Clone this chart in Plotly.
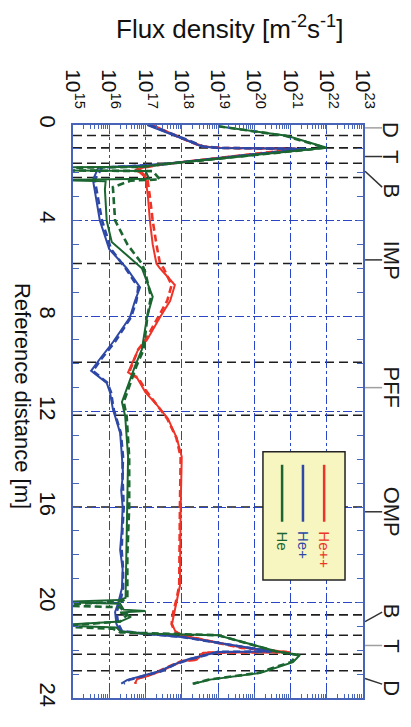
import plotly.graph_objects as go

# ---------------- data ----------------
flux_tick_vals = [1e15, 1e16, 1e17, 1e18, 1e19, 1e20, 1e21, 1e22, 1e23]
flux_tick_text = ["10<sup>15</sup>", "10<sup>16</sup>", "10<sup>17</sup>", "10<sup>18</sup>",
                  "10<sup>19</sup>", "10<sup>20</sup>", "10<sup>21</sup>", "10<sup>22</sup>",
                  "10<sup>23</sup>"]
dist_tick_vals = [0, 4, 8, 12, 16, 20, 24]

# He++ (red)
hepp_d = [0.0, 0.34, 0.62, 0.9, 0.96, 1.0, 1.65, 1.78, 1.88, 2.0, 2.2, 3.0, 4.0, 5.0, 5.8, 6.0,
          6.7, 7.36, 8.05, 9.0, 9.4, 10.36, 10.6, 11.2, 11.7, 12.3, 13.1, 13.9, 16.0, 19.3, 19.9,
          20.5, 20.9, 21.2, 21.37, 21.9, 22.08, 22.1, 22.4, 22.45, 22.68, 22.89, 23.09, 23.2, 23.4]
hepp_solid = [1.58e17, 5.01e17, 1.26e18, 3.98e18, 1.26e19, 1.78e21, 2.51e17, 8.91e16, 5.13e16,
              7.08e16, 1.0e17, 1.17e17, 1.32e17, 1.58e17, 2.0e17, 2.51e17, 6.46e17, 4.79e17,
              2.51e17, 1.1e17, 6.31e16, 3.31e16, 5.89e16, 1.0e17, 2.0e17, 4.17e17, 7.24e17,
              1.0e18, 9.33e17, 8.91e17, 7.24e17, 5.89e17, 5.37e17, 6.61e17, 1.0e18, 5.01e19,
              1.0e21, 3.98e18, 2.57e18, 1.07e18, 4.79e17, 2.51e17, 1.1e17, 5.89e16, 5.13e16]
hepp_dash = [1.41e17, 4.47e17, 1.26e18, 3.55e18, 1.12e19, 1.58e21, 2.82e17, 8.91e16, 5.62e16,
             7.94e16, 1.12e17, 1.32e17, 1.58e17, 2.0e17, 2.51e17, 3.16e17, 5.25e17, 3.98e17,
             2.24e17, 1.0e17, 6.31e16, 3.55e16, 6.31e16, 1.12e17, 2.0e17, 3.98e17, 7.08e17,
             9.33e17, 8.91e17, 8.51e17, 7.08e17, 5.62e17, 5.25e17, 6.31e17, 1.0e18, 4.47e19,
             7.94e20, 3.98e18, 2.51e18, 1.0e18, 4.47e17, 2.24e17, 1.0e17, 5.62e16, 5.25e16]

# He+ (blue)
hep_d = [0.0, 0.34, 0.62, 0.9, 0.96, 1.0, 1.65, 1.72, 1.78, 2.3, 2.7, 4.0, 5.2, 6.0, 6.8, 7.36,
         8.05, 9.1, 9.8, 10.3, 10.8, 11.2, 11.9, 12.9, 13.9, 14.6, 15.3, 16.0, 17.0, 17.8, 18.6,
         19.4, 20.0, 20.4, 20.9, 21.2, 21.3, 21.44, 22.05, 22.07, 22.37, 22.6, 22.87, 23.08,
         23.24, 23.4]
hep_solid = [1.12e17, 4.47e17, 1.26e18, 3.55e18, 1.0e19, 2.82e21, 2.51e17, 3.98e16, 5.01e15,
             3.55e15, 3.98e15, 5.5e15, 1.0e16, 3.02e16, 7.08e16, 5.13e16, 3.72e16, 1.26e16,
             5.5e15, 3.16e15, 8.51e15, 1.05e16, 1.26e16, 2.0e16, 2.24e16, 2.4e16, 2.14e16,
             2.34e16, 2.2e16, 2.0e16, 2.34e16, 2.24e16, 1.78e16, 1.45e16, 1.58e16, 2.0e16,
             7.94e16, 9.77e17, 3.16e20, 1.0e19, 1.58e18, 5.89e17, 2.51e17, 7.94e16, 3.16e16,
             2.14e16]
hep_dash = [1.26e17, 5.01e17, 1.41e18, 3.98e18, 1.12e19, 2.51e21, 2.82e17, 4.47e16, 6.31e15,
            3.98e15, 4.47e15, 6.31e15, 1.12e16, 2.82e16, 6.31e16, 5.62e16, 3.98e16, 1.41e16,
            6.03e15, 3.55e15, 8.91e15, 1.12e16, 1.32e16, 2.09e16, 2.4e16, 2.3e16, 2.4e16,
            2.51e16, 2.3e16, 2.2e16, 2.4e16, 2.4e16, 2.0e16, 1.58e16, 1.78e16, 2.24e16,
            8.91e16, 1.0e18, 2.82e20, 1.0e19, 1.78e18, 6.31e17, 2.82e17, 8.91e16, 3.55e16,
            2.51e16]

# He (green)
he_d = [0.05, 0.45, 0.95, 1.02, 1.65, 1.75, 1.78, 1.9, 1.93, 2.25, 2.3, 2.36, 2.7, 4.0, 4.9,
        6.0, 7.2, 8.05, 9.4, 10.1, 11.6, 12.2, 13.9, 16.0, 18.0, 19.8, 19.9, 19.98, 20.05, 20.3,
        20.36, 20.42, 20.6, 20.8, 20.95, 21.05, 21.2, 21.3, 21.37, 22.05, 22.2, 22.5, 22.95,
        23.23, 23.4]
he_solid = [1.0e19, 7.94e20, 1.0e22, 3.98e21, 2.51e17, 7.94e16, 3.16e14, 3.16e14, 1.0e17,
            1.26e17, 3.16e14, 7.94e15, 7.59e15, 8.51e15, 1.17e16, 7.94e16, 1.58e17, 1.1e17,
            7.94e16, 5.13e16, 2.24e16, 2.75e16, 3.31e16, 3.16e16, 3.02e16, 2.82e16, 2.0e16,
            3.16e14, 2.0e16, 2.51e16, 1.0e17, 2.0e16, 3.98e16, 2.0e16, 3.16e14, 1.58e16,
            2.0e16, 7.94e16, 1.0e19, 4.27e20, 1.82e21, 1.17e21, 1.45e20, 6.03e18, 2.14e18]
he_dash_d = [0.05, 0.45, 0.95, 1.02, 1.65, 1.75, 1.8, 1.9, 1.93, 2.28, 2.33, 2.6, 4.0, 5.0,
             5.8, 6.2, 7.2, 8.05, 9.4, 10.1, 11.6, 12.2, 13.9, 16.0, 18.0, 19.8, 19.95, 20.12,
             20.2, 20.5, 20.8, 21.0, 21.1, 21.25, 21.37, 22.05, 22.2, 22.5, 22.95, 23.23, 23.4]
he_dash = [1.0e19, 7.08e20, 8.91e21, 3.55e21, 2.82e17, 8.91e16, 3.16e14, 3.16e14, 1.58e17,
           2.51e17, 3.98e16, 1.26e16, 1.45e16, 3.16e16, 7.94e16, 1.0e17, 1.41e17, 1.12e17,
           8.91e16, 5.62e16, 2.51e16, 3.02e16, 3.55e16, 3.55e16, 3.16e16, 3.16e16, 2.24e16,
           3.16e14, 2.0e16, 3.16e16, 2.0e16, 3.16e14, 1.26e16, 2.0e16, 1.0e19, 3.98e20,
           1.58e21, 1.0e21, 1.26e20, 5.62e18, 2.0e18]

# reference (black dashed) positions along the distance axis [m]
reference_lines = [0.44, 0.96, 1.6, 2.2, 5.8, 9.94, 12.16, 16.0, 20.52, 21.37, 22.17, 22.86]

# region labels on the right side
region_labels = ["D", "T", "B", "IMP", "PFF", "OMP", "B", "T", "D"]
region_label_at = [0.22, 1.3, 2.75, 5.65, 11.0, 16.2, 20.35, 21.8, 23.6]
leader_from = [0.12, 1.32, 1.94, 5.65, 11.0, 16.2, 20.8, 21.8, 23.18]
leader_to = [0.12, 1.32, 2.6, 5.65, 11.0, 16.2, 20.4, 21.8, 23.42]
leader_gray = [True, False, False, False, True, False, False, True, False]

legend_names = ["He++", "He+", "He"]

# ---------------- styling ----------------
RED = "#ee3428"
BLUE = "#2e48a6"
GREEN = "#1b6630"
FRAME = "#4864b8"
GRID = "#2a46c4"
FONT = "Liberation Sans, Arial, sans-serif"

fig = go.Figure()

series = [
    (hepp_d, hepp_solid, hepp_d, hepp_dash, RED),
    (hep_d, hep_solid, hep_d, hep_dash, BLUE),
    (he_d, he_solid, he_dash_d, he_dash, GREEN),
]
for d_s, f_s, d_d, f_d, col in series:
    fig.add_trace(go.Scatter(x=f_d, y=d_d, mode="lines",
                             line=dict(color=col, width=2.6, dash="7px,4px"),
                             showlegend=False, hoverinfo="skip"))
    fig.add_trace(go.Scatter(x=f_s, y=d_s, mode="lines",
                             line=dict(color=col, width=2.0),
                             showlegend=False, hoverinfo="skip"))

shapes = []
for d in reference_lines:
    shapes.append(dict(type="line", xref="paper", yref="y", x0=0, x1=1, y0=d, y1=d,
                       line=dict(color="#1e1e1e", width=1.6, dash="9px,5px"),
                       layer="between"))

# leader lines to region labels
for a, b, g in zip(leader_from, leader_to, leader_gray):
    shapes.append(dict(type="line", xref="paper", yref="y", x0=1.007, x1=1.066, y0=a, y1=b,
                       line=dict(color="#a0a0a0" if g else "#333333", width=1.5),
                       layer="above"))

# legend box
box_x0, box_x1, box_y0, box_y1 = 0.655, 0.938, 0.206, 0.4296
shapes.append(dict(type="rect", xref="paper", yref="paper", x0=box_x0, x1=box_x1,
                   y0=box_y0, y1=box_y1, fillcolor="#f7f5c0",
                   line=dict(color="#222222", width=1.5), layer="above"))
leg_x = [0.866, 0.793, 0.721]
leg_cols = [RED, BLUE, GREEN]
for lx, c in zip(leg_x, leg_cols):
    shapes.append(dict(type="line", xref="paper", yref="paper", x0=lx, x1=lx,
                       y0=0.3076, y1=0.407, line=dict(color=c, width=2.5), layer="above"))

annotations = []
for lx, c, name in zip(leg_x, leg_cols, legend_names):
    annotations.append(dict(xref="paper", yref="paper", x=lx, y=0.295, text=name,
                            textangle=90, showarrow=False, xanchor="center", yanchor="top",
                            font=dict(family=FONT, size=15, color=c)))

for lab, d in zip(region_labels, region_label_at):
    annotations.append(dict(xref="paper", yref="y", x=1.097, y=d, text=lab, textangle=90,
                            showarrow=False, xanchor="center", yanchor="middle",
                            font=dict(family=FONT, size=22, color="#1a1a1a")))

annotations.append(dict(xref="paper", yref="paper", x=0.54, y=1.17,
                        text="Flux density [m<sup>-2</sup>s<sup>-1</sup>]", showarrow=False,
                        xanchor="center", yanchor="middle",
                        font=dict(family=FONT, size=26, color="#111111")))
annotations.append(dict(xref="paper", yref="paper", x=-0.172, y=0.527,
                        text="Reference distance [m]", textangle=90, showarrow=False,
                        xanchor="center", yanchor="middle",
                        font=dict(family=FONT, size=22, color="#111111")))

# the page body adds an 8 px margin on every side; the figure fills the rest of the window
fig.update_layout(
    width=395, height=711,
    margin=dict(l=65, r=40, t=117, b=12, pad=0),
    paper_bgcolor="white", plot_bgcolor="white",
    showlegend=False,
    shapes=shapes, annotations=annotations,
    font=dict(family=FONT, color="#111111"),
)

fig.update_xaxes(
    type="log", range=[15, 23], side="top",
    tickmode="array", tickvals=flux_tick_vals, ticktext=flux_tick_text,
    tickangle=90, tickfont=dict(family=FONT, size=21, color="#111111"),
    ticks="inside", ticklen=6, tickcolor=FRAME, tickwidth=1.2,
    showline=True, linecolor=FRAME, linewidth=1.6, mirror="allticks",
    showgrid=True, gridcolor=GRID, gridwidth=1, griddash="dashdot",
    minor=dict(ticks="inside", ticklen=4, tickcolor=FRAME, tickwidth=1, dtick="D1",
               showgrid=False),
    zeroline=False, ticklabelstandoff=7,
)
fig.update_yaxes(
    range=[24, 0],
    tickmode="array", tickvals=dist_tick_vals,
    tickangle=90, tickfont=dict(family=FONT, size=22, color="#111111"),
    ticks="inside", ticklen=6, tickcolor=FRAME, tickwidth=1.2,
    showline=True, linecolor=FRAME, linewidth=1.6, mirror="allticks",
    showgrid=True, gridcolor=GRID, gridwidth=1, griddash="dashdot",
    minor=dict(ticks="inside", ticklen=6, tickcolor=FRAME, tickwidth=1.2, dtick=1,
               showgrid=False),
    zeroline=False, ticklabelstandoff=5,
)

fig.write_html("out.html")
